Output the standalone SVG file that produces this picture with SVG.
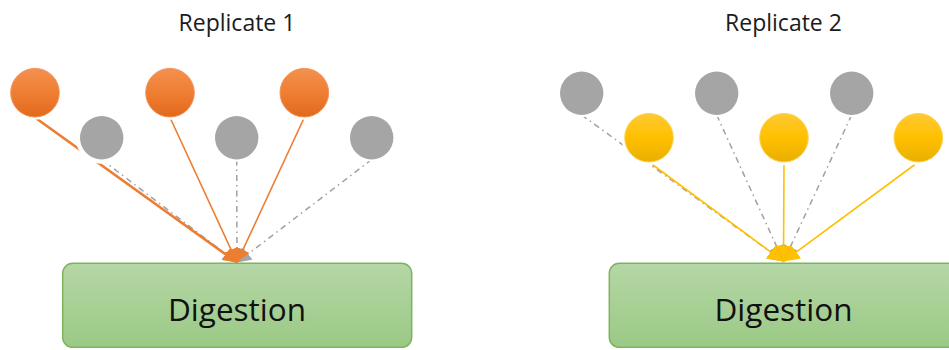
<svg xmlns="http://www.w3.org/2000/svg" width="949" height="350" viewBox="0 0 949 350">
  <style>
    .title { font-family: "Open Sans", "Liberation Sans", sans-serif; font-size: 23px; fill: #1b1b1b; text-anchor: middle; }
    .label { font-family: "Open Sans", "Liberation Sans", sans-serif; font-size: 31.5px; fill: #111; text-anchor: middle; }
    .box { fill: url(#gGreen); stroke: #7DB45C; stroke-width: 1.5; }
    .halo { fill: #fff; }
    .gray { fill: #A5A5A5; }
    .orange { fill: url(#gOrange); stroke: #F29259; stroke-width: 1; }
    .yellow { fill: url(#gYellow); stroke: #FFD24D; stroke-width: 1; }
    .dashdot { fill: none; stroke: #A0A0A0; stroke-width: 1.5; stroke-dasharray: 6 4 1.5 4; }
    .l-orange { fill: none; stroke: #ED7D31; stroke-width: 1.6; }
    .l-yellow { fill: none; stroke: #FFC000; stroke-width: 1.6; }
  </style>
  <defs>
    <linearGradient id="gOrange" x1="0" y1="0" x2="0" y2="1">
      <stop offset="0" stop-color="#F3914F"/>
      <stop offset="0.5" stop-color="#EF7E33"/>
      <stop offset="1" stop-color="#E2691B"/>
    </linearGradient>
    <linearGradient id="gYellow" x1="0" y1="0" x2="0" y2="1">
      <stop offset="0" stop-color="#FFC933"/>
      <stop offset="0.5" stop-color="#FFC000"/>
      <stop offset="1" stop-color="#E9AF00"/>
    </linearGradient>
    <linearGradient id="gGreen" x1="0" y1="0" x2="0" y2="1">
      <stop offset="0" stop-color="#B5D7A6"/>
      <stop offset="1" stop-color="#9BC985"/>
    </linearGradient>
    <marker id="aOrange" markerUnits="userSpaceOnUse" orient="auto" markerWidth="14" markerHeight="14" refX="14" refY="7" viewBox="0 0 14 14">
      <path d="M0,0 L14,7 L0,14 z" fill="#ED7D31"/>
    </marker>
    <marker id="aGrayL" markerUnits="userSpaceOnUse" orient="auto" markerWidth="14" markerHeight="14" refX="14" refY="7" viewBox="0 0 14 14">
      <path d="M0,0 L14,7 L0,14 z" fill="#A5A5A5"/>
    </marker>
    <marker id="aYellow" markerUnits="userSpaceOnUse" orient="auto" markerWidth="16" markerHeight="16" refX="16" refY="8" viewBox="0 0 16 16">
      <path d="M0,0 L16,8 L0,16 z" fill="#FFC000"/>
    </marker>
    <marker id="aGrayR" markerUnits="userSpaceOnUse" orient="auto" markerWidth="16" markerHeight="16" refX="16" refY="8" viewBox="0 0 16 16">
      <path d="M0,0 L16,8 L0,16 z" fill="#A5A5A5"/>
    </marker>
  </defs>

  <!-- Titles -->
  <g id="title-rep1"><text class="title" x="237" y="31">Replicate 1</text></g>
  <g id="title-rep2"><text class="title" x="783.5" y="31">Replicate 2</text></g>

  <!-- Digestion boxes -->
  <g id="digestion-1">
    <rect class="box" x="62.7" y="263.3" width="349" height="84" rx="10"/>
    <text class="label" x="237" y="321">Digestion</text>
  </g>
  <g id="digestion-2">
    <rect class="box" x="609.3" y="263.3" width="349" height="84" rx="10"/>
    <text class="label" x="783.5" y="321">Digestion</text>
  </g>

  <!-- Connectors: samples into digestion -->
  <g id="connectors">
    <!-- replicate 1 -->
    <line class="dashdot" x1="101.7" y1="159.5" x2="237" y2="262.5" marker-end="url(#aGrayL)"/>
    <line class="dashdot" x1="236.7" y1="159.5" x2="237" y2="262.5" marker-end="url(#aGrayL)"/>
    <line class="dashdot" x1="371.7" y1="159.5" x2="237" y2="262.5" marker-end="url(#aGrayL)"/>
    <line class="l-orange" style="stroke-width:2.6" x1="35" y1="117.5" x2="237" y2="262.5" marker-end="url(#aOrange)"/>
    <line class="l-orange" x1="170" y1="117.5" x2="237" y2="262.5" marker-end="url(#aOrange)"/>
    <line class="l-orange" x1="304.3" y1="117.5" x2="237" y2="262.5" marker-end="url(#aOrange)"/>
    <!-- replicate 2 -->
    <line class="dashdot" x1="581.7" y1="115" x2="783.5" y2="261.5" marker-end="url(#aGrayR)"/>
    <line class="dashdot" x1="716.7" y1="115" x2="783.5" y2="261.5" marker-end="url(#aGrayR)"/>
    <line class="dashdot" x1="851.7" y1="115" x2="783.5" y2="261.5" marker-end="url(#aGrayR)"/>
    <line class="l-yellow" x1="649" y1="162" x2="783.5" y2="261.5" marker-end="url(#aYellow)"/>
    <line class="l-yellow" x1="784" y1="162" x2="783.5" y2="261.5" marker-end="url(#aYellow)"/>
    <line class="l-yellow" x1="918.3" y1="162" x2="783.5" y2="261.5" marker-end="url(#aYellow)"/>
  </g>

  <!-- Replicate 1 samples -->
  <g id="r1-orange-1"><circle class="halo" cx="35" cy="92.7" r="27"/><circle class="orange" cx="35" cy="92.7" r="24.3"/></g>
  <g id="r1-gray-1"><circle class="halo" cx="101.7" cy="137.7" r="26"/><circle class="gray" cx="101.7" cy="137.7" r="21.7"/></g>
  <g id="r1-orange-2"><circle class="halo" cx="170" cy="92.7" r="27"/><circle class="orange" cx="170" cy="92.7" r="24.3"/></g>
  <g id="r1-gray-2"><circle class="halo" cx="236.7" cy="137.7" r="24"/><circle class="gray" cx="236.7" cy="137.7" r="21.7"/></g>
  <g id="r1-orange-3"><circle class="halo" cx="304.3" cy="92.7" r="27"/><circle class="orange" cx="304.3" cy="92.7" r="24.3"/></g>
  <g id="r1-gray-3"><circle class="halo" cx="371.7" cy="137.7" r="24"/><circle class="gray" cx="371.7" cy="137.7" r="21.7"/></g>

  <!-- Replicate 2 samples -->
  <g id="r2-gray-1"><circle class="halo" cx="581.7" cy="93.3" r="24"/><circle class="gray" cx="581.7" cy="93.3" r="21.7"/></g>
  <g id="r2-yellow-1"><circle class="halo" cx="649" cy="137.7" r="27.5"/><circle class="yellow" cx="649" cy="137.7" r="24.3"/></g>
  <g id="r2-gray-2"><circle class="halo" cx="716.7" cy="93.3" r="24"/><circle class="gray" cx="716.7" cy="93.3" r="21.7"/></g>
  <g id="r2-yellow-2"><circle class="halo" cx="784" cy="137.7" r="27.5"/><circle class="yellow" cx="784" cy="137.7" r="24.3"/></g>
  <g id="r2-gray-3"><circle class="halo" cx="851.7" cy="93.3" r="24"/><circle class="gray" cx="851.7" cy="93.3" r="21.7"/></g>
  <g id="r2-yellow-3"><circle class="halo" cx="918.3" cy="137.7" r="27.5"/><circle class="yellow" cx="918.3" cy="137.7" r="24.3"/></g>
</svg>
